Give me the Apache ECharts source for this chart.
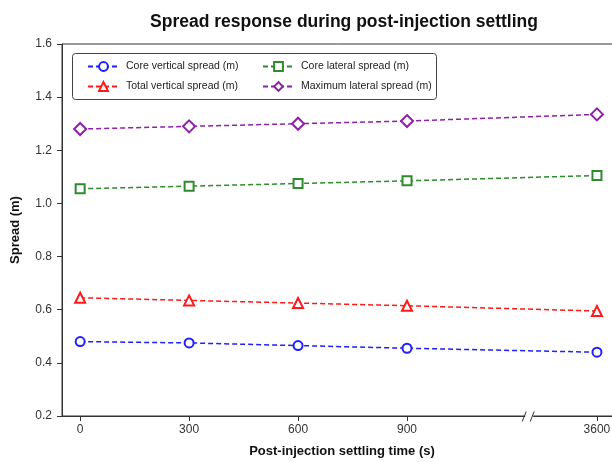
<!DOCTYPE html>
<html>
<head>
<meta charset="utf-8">
<script src="https://cdn.jsdelivr.net/npm/echarts@6/dist/echarts.min.js"></script>
<style>
  html, body { margin: 0; padding: 0; background: #ffffff; }
  #chart { width: 612px; height: 462px; }
</style>
</head>
<body>
<div id="chart"></div>
<script>
// Settling times (s) and measured spreads (m)
const times = [0, 300, 600, 900, 3600];
const coreVertical = [0.48, 0.475, 0.465, 0.455, 0.44];
const totalVertical = [0.645, 0.635, 0.625, 0.615, 0.595];
const coreLateral = [1.055, 1.065, 1.075, 1.085, 1.105];
const maxLateral = [1.28, 1.29, 1.30, 1.31, 1.335];

const xTickValues = [0, 300, 600, 900, 3600];
const seriesNames = [
  'Core vertical spread (m)',
  'Core lateral spread (m)',
  'Total vertical spread (m)',
  'Maximum lateral spread (m)'
];

// Time axis is broken between 900 s and 3600 s
const timeBreak = { start: 1150, end: 3500, gap: 173 };

const FONT = '"Liberation Sans", Arial, sans-serif';
const AXIS_COLOR = '#333333';

function pairs(values) {
  return times.map((t, i) => [t, values[i]]);
}

function lineSeries(name, values, color, symbol, size) {
  return {
    name: name,
    type: 'line',
    data: pairs(values),
    symbol: symbol,
    symbolSize: size,
    showSymbol: true,
    lineStyle: { color: color, width: 1.5, type: [5, 3] },
    itemStyle: { color: color, borderColor: color, borderWidth: 1.5 },
    emphasis: { disabled: true },
    animation: false,
    z: 3
  };
}

const chart = echarts.init(document.getElementById('chart'), null, { renderer: 'canvas' });

const legendCommon = {
  orient: 'vertical',
  itemWidth: 31,
  itemHeight: 11,
  itemGap: 9,
  z: 10,
  textStyle: { fontFamily: FONT, fontSize: 10.5, color: '#222', padding: [0, 0, 0, 2] },
  selectedMode: false
};

chart.setOption({
  backgroundColor: '#ffffff',
  animation: false,
  title: {
    text: 'Spread response during post-injection settling',
    left: 339,
    textAlign: 'center',
    top: 8,
    textStyle: { fontFamily: FONT, fontSize: 17.5, fontWeight: 'bold', color: '#111' }
  },
  legend: [
    Object.assign({}, legendCommon, { left: 82, top: 56, data: [seriesNames[0], seriesNames[2]] }),
    Object.assign({}, legendCommon, { left: 257, top: 56, data: [seriesNames[1], seriesNames[3]] })
  ],
  grid: {
    left: 62, width: 560, top: 44, bottom: 46,
    outerBoundsMode: 'none',
    containLabel: false,
    show: true, borderColor: AXIS_COLOR, borderWidth: 1, backgroundColor: 'transparent'
  },
  xAxis: {
    type: 'value',
    min: -50,
    max: 3669,
    breaks: [timeBreak],
    breakArea: {
      show: false,
      itemStyle: { opacity: 0, borderWidth: 0 },
      expandOnClick: false
    },
    name: 'Post-injection settling time (s)',
    nameLocation: 'middle',
    nameGap: 29,
    nameTextStyle: { fontFamily: FONT, fontSize: 13, fontWeight: 'bold', color: '#111' },
    axisLine: { show: true, onZero: false, lineStyle: { color: AXIS_COLOR, width: 1 } },
    axisTick: { show: true, length: 5, inside: false, customValues: xTickValues, lineStyle: { color: AXIS_COLOR } },
    axisLabel: {
      customValues: xTickValues, margin: 8, fontFamily: FONT, fontSize: 12, color: '#333',
      formatter: v => String(v)
    },
    splitLine: { show: false }
  },
  yAxis: {
    type: 'value',
    min: 0.2,
    max: 1.6,
    interval: 0.2,
    name: 'Spread (m)',
    nameLocation: 'middle',
    nameGap: 40,
    nameTextStyle: { fontFamily: FONT, fontSize: 13, fontWeight: 'bold', color: '#111' },
    axisLine: { show: true, onZero: false, lineStyle: { color: AXIS_COLOR, width: 1 } },
    axisTick: { show: true, length: 5, inside: false, lineStyle: { color: AXIS_COLOR } },
    axisLabel: {
      margin: 10, fontFamily: FONT, fontSize: 12, color: '#333',
      formatter: v => v.toFixed(1)
    },
    splitLine: { show: false }
  },
  series: [
    lineSeries(seriesNames[0], coreVertical, '#1f1fff', 'emptyCircle', 9),
    lineSeries(seriesNames[1], coreLateral, '#2e8b2e', 'emptyRect', 9),
    lineSeries(seriesNames[2], totalVertical, '#ff1a1a', 'emptyTriangle', 10),
    lineSeries(seriesNames[3], maxLateral, '#8f1fa8', 'emptyDiamond', 12)
  ]
});

// Legend frame, the axis line across the break and its "//" mark
const breakLeft = chart.convertToPixel({ xAxisIndex: 0 }, timeBreak.start);
const breakRight = chart.convertToPixel({ xAxisIndex: 0 }, timeBreak.end);
const axisY = Math.round(chart.convertToPixel({ yAxisIndex: 0 }, 0.2)) + 0.5;
const bx = (breakLeft + breakRight) / 2;

chart.setOption({
  graphic: [
    {
      type: 'rect',
      shape: { x: 72.5, y: 53.5, width: 364, height: 46, r: 3 },
      style: { fill: '#ffffff', stroke: '#444', lineWidth: 1 },
      z: 1, silent: true
    },
    {
      type: 'line',
      shape: { x1: breakLeft - 2, y1: axisY, x2: breakRight + 2, y2: axisY },
      style: { stroke: AXIS_COLOR, lineWidth: 1 },
      z: 19, silent: true
    },
    {
      type: 'rect',
      shape: { x: bx - 4, y: axisY - 3, width: 8, height: 6 },
      style: { fill: '#ffffff' },
      z: 20, silent: true
    },
    {
      type: 'line',
      shape: { x1: bx - 7, y1: axisY + 5, x2: bx - 3, y2: axisY - 5 },
      style: { stroke: AXIS_COLOR, lineWidth: 1 },
      z: 21, silent: true
    },
    {
      type: 'line',
      shape: { x1: bx + 1, y1: axisY + 5, x2: bx + 5, y2: axisY - 5 },
      style: { stroke: AXIS_COLOR, lineWidth: 1 },
      z: 21, silent: true
    }
  ]
});
</script>
</body>
</html>
